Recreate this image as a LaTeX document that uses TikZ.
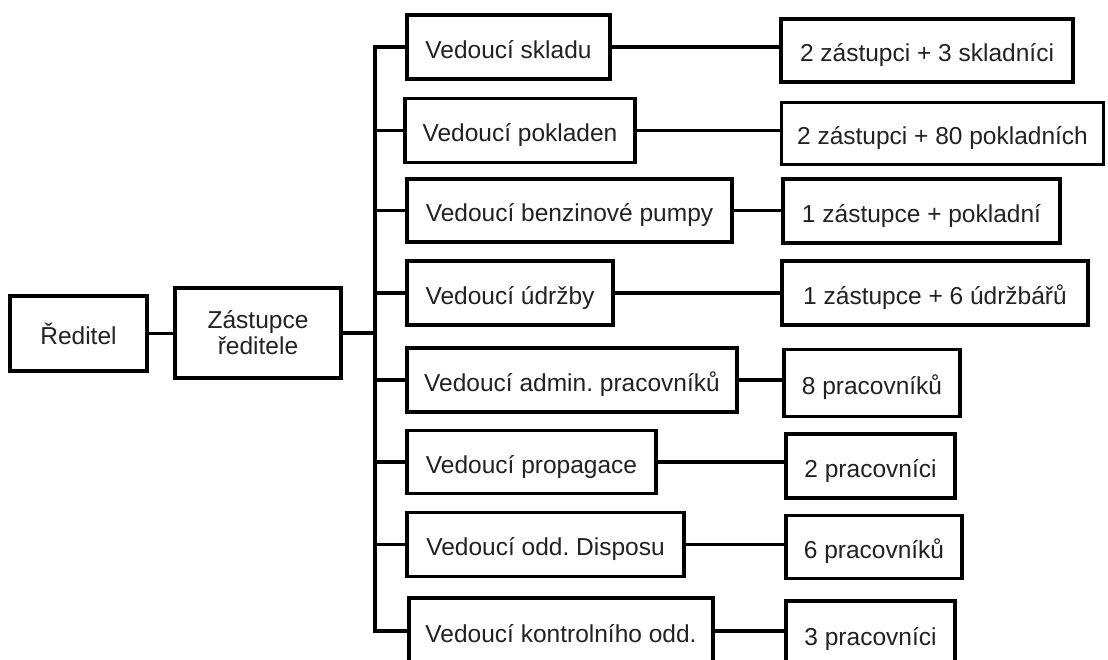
\documentclass[tikz,border=0pt]{standalone}
\usepackage{fontspec}
\setmainfont{Liberation Sans}
\definecolor{txt}{HTML}{222222}
\begin{document}
\begin{tikzpicture}[x=1pt,y=-1pt,
  box/.style={draw=black, line width=3.2pt, fill=white, text=txt,
    font=\fontsize{24.5}{26}\selectfont, inner sep=0pt, align=center},
  one/.style={box, text height=22pt, text depth=0pt},
  conn/.style={draw=black, line width=3.2pt}]
\useasboundingbox (0,0) rectangle (1108,659);
% level 0 and 1
\node[one, minimum width=137pt, minimum height=75pt] (red) at (78.5,333.5) {Ředitel};
\node[box, minimum width=166pt, minimum height=90pt] (zas) at (258,333) {Zástupce\\ředitele};
\coordinate (bus) at (375,333);
% level 2
\node[one, minimum width=203pt, minimum height=64pt] (l1) at (508.5,47) {Vedoucí skladu};
\node[one, minimum width=230pt, minimum height=64pt] (l2) at (520,130.5) {Vedoucí pokladen};
\node[one, minimum width=325pt, minimum height=63pt] (l3) at (569.5,210.5) {Vedoucí benzinové pumpy};
\node[one, minimum width=206pt, minimum height=64pt] (l4) at (510,293) {Vedoucí údržby};
\node[one, minimum width=330pt, minimum height=64pt] (l5) at (572,380) {Vedoucí admin.\ pracovníků};
\node[one, minimum width=249pt, minimum height=63pt] (l6) at (531.5,462) {Vedoucí propagace};
\node[one, minimum width=277pt, minimum height=64pt] (l7) at (545.5,544.5) {Vedoucí odd.\ Disposu};
\node[one, minimum width=304pt, minimum height=66pt] (l8) at (561,631) {Vedoucí kontrolního odd.};
% level 3
\node[one, minimum width=292pt, minimum height=63pt] (r1) at (927,50.5) {2 zástupci + 3 skladníci};
\node[one, minimum width=322pt, minimum height=62pt] (r2) at (942.5,133.5) {2 zástupci + 80 pokladních};
\node[one, minimum width=277pt, minimum height=64pt] (r3) at (921.5,211) {1 zástupce + pokladní};
\node[one, minimum width=306pt, minimum height=64pt] (r4) at (935,293) {1 zástupce + 6 údržbářů};
\node[one, minimum width=176pt, minimum height=67pt] (r5) at (872,383) {8 pracovníků};
\node[one, minimum width=169pt, minimum height=64pt] (r6) at (870.5,466) {2 pracovníci};
\node[one, minimum width=176pt, minimum height=63pt] (r7) at (874,547) {6 pracovníků};
\node[one, minimum width=169pt, minimum height=66pt] (r8) at (870.5,634) {3 pracovníci};
% connectors
\draw[conn] (red.east) -- (zas.west |- red.east);
\draw[conn] (zas.east) -- (bus);
\draw[conn] (l1.west) -- (l1.west -| bus) -- (l8.west -| bus) -- (l8.west);
\foreach \i in {2,...,7} {\draw[conn] (l\i.west -| bus) -- (l\i.west);}
\foreach \i in {1,...,8} {\draw[conn] (l\i.east) -- (l\i.east -| r\i.west);}
\end{tikzpicture}
\end{document}
